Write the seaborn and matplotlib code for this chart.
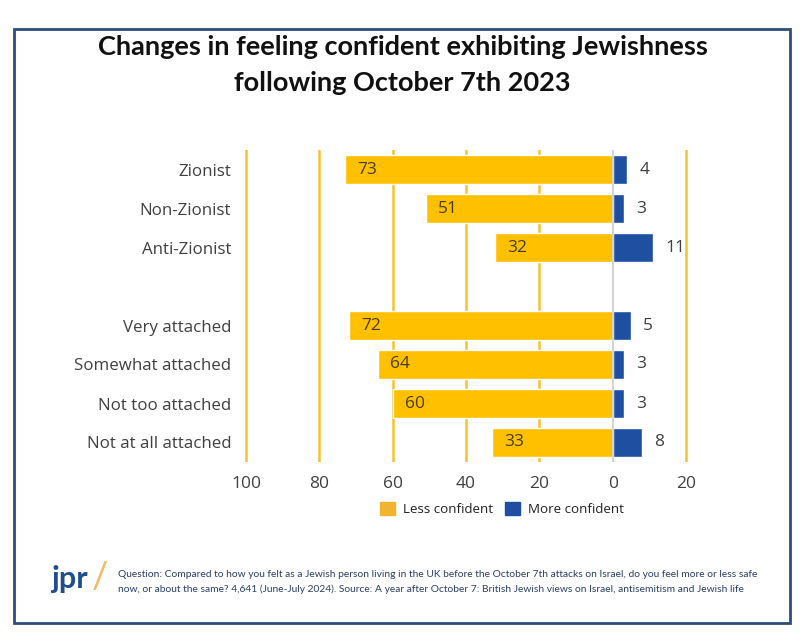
import matplotlib
matplotlib.use("Agg")
import matplotlib.pyplot as plt
import matplotlib.patches as mpatches
import seaborn as sns
import pandas as pd

categories = ["Zionist", "Non-Zionist", "Anti-Zionist", " ",
              "Very attached", "Somewhat attached", "Not too attached", "Not at all attached"]
less_confident = [73, 51, 32, None, 72, 64, 60, 33]
more_confident = [4, 3, 11, None, 5, 3, 3, 8]
xticks = [-100, -80, -60, -40, -20, 0, 20]
xtick_labels = ["100", "80", "60", "40", "20", "0", "20"]

title = "Changes in feeling confident exhibiting Jewishness\nfollowing October 7th 2023"
footer = ("Question: Compared to how you felt as a Jewish person living in the UK before the October 7th attacks on Israel, do you feel more or less safe\n"
          "now, or about the same? 4,641 (June-July 2024). Source: A year after October 7: British Jewish views on Israel, antisemitism and Jewish life")

YELLOW = "#FFC000"
BLUE = "#1F4FA0"
GRID = "#F5C330"
TXT = "#404040"

sns.set_theme(style="white")
plt.rcParams["font.family"] = ["Open Sans", "DejaVu Sans"]

df = pd.DataFrame({"cat": categories,
                   "less": [-v if v is not None else None for v in less_confident],
                   "more": more_confident})
dfl = df.dropna()

W, H = 805, 644
fig = plt.figure(figsize=(W / 100, H / 100), dpi=100)
ax = fig.add_axes([246 / W - 1 * 3.667 / W, (H - 462) / H, (440 + 2 * 3.667) / W, 312 / H])

sns.barplot(data=dfl, x="less", y="cat", order=categories, orient="h",
            color=YELLOW, saturation=1, width=0.72, ax=ax, zorder=3)
sns.barplot(data=dfl, x="more", y="cat", order=categories, orient="h",
            color=BLUE, saturation=1, width=0.72, ax=ax, zorder=3)

ax.set_xlim(-101, 21)
ax.set_ylim(7.5, -0.5)
for x in xticks:
    if x == 0:
        ax.axvline(x, color="#d4d4d4", lw=1.5, zorder=4)
    else:
        ax.axvline(x, color=GRID, lw=1.8, zorder=1)

for i, (l, m) in enumerate(zip(less_confident, more_confident)):
    if l is None:
        continue
    ax.text(-l + 3.3, i, str(l), ha="left", va="center", fontsize=12.5, color="#4a3c10", zorder=5)
    ax.text(m + 3.3, i, str(m), ha="left", va="center", fontsize=12.5, color=TXT, zorder=5)

ax.set_xticks(xticks)
ax.set_xticklabels(xtick_labels, fontsize=12.5, color=TXT)
ax.set_yticks(range(len(categories)))
ax.set_yticklabels(categories, fontsize=12.2, color=TXT)
ax.tick_params(axis="x", length=0, pad=10)
ax.tick_params(axis="y", length=0, pad=8)
ax.set_xlabel("")
ax.set_ylabel("")
for s in ax.spines.values():
    s.set_visible(False)

handles = [mpatches.Patch(color="#F2B32E", label="Less confident"),
           mpatches.Patch(color=BLUE, label="More confident")]
fig.legend(handles=handles, loc="center", bbox_to_anchor=(502 / W, 1 - 509 / H), ncol=2,
           frameon=False, fontsize=9.6, handlelength=1.15, handleheight=1.15,
           handletextpad=0.6, columnspacing=0.9, labelcolor="#222222")

fig.text(0.5, 1 - 65 / H, title, ha="center", va="center", fontsize=19.5,
         fontweight="bold", family=["Lato", "DejaVu Sans"], color="#111111", linespacing=1.6)

fig.text(51 / W, 1 - 579 / H, "jpr", ha="left", va="center", fontsize=22,
         fontweight="bold", family=["Lato", "DejaVu Sans"], color="#1F4E8C")
fig.text(92 / W, 1 - 578 / H, "/", ha="left", va="center", fontsize=26,
         family=["Lato", "DejaVu Sans"], color="#F2B860")
fig.text(118 / W, 1 - 582 / H, footer, ha="left", va="center", fontsize=7.42,
         family=["Lato", "DejaVu Sans"], color="#2A3F66",
         linespacing=1.6)

frame = mpatches.Rectangle((14 / W, 1 - 623 / H), (790 - 14) / W, (623 - 29) / H,
                           transform=fig.transFigure, fill=False, edgecolor="#2E4D7B", lw=2)
fig.patches.append(frame)

fig.savefig("out.png", dpi=100)
